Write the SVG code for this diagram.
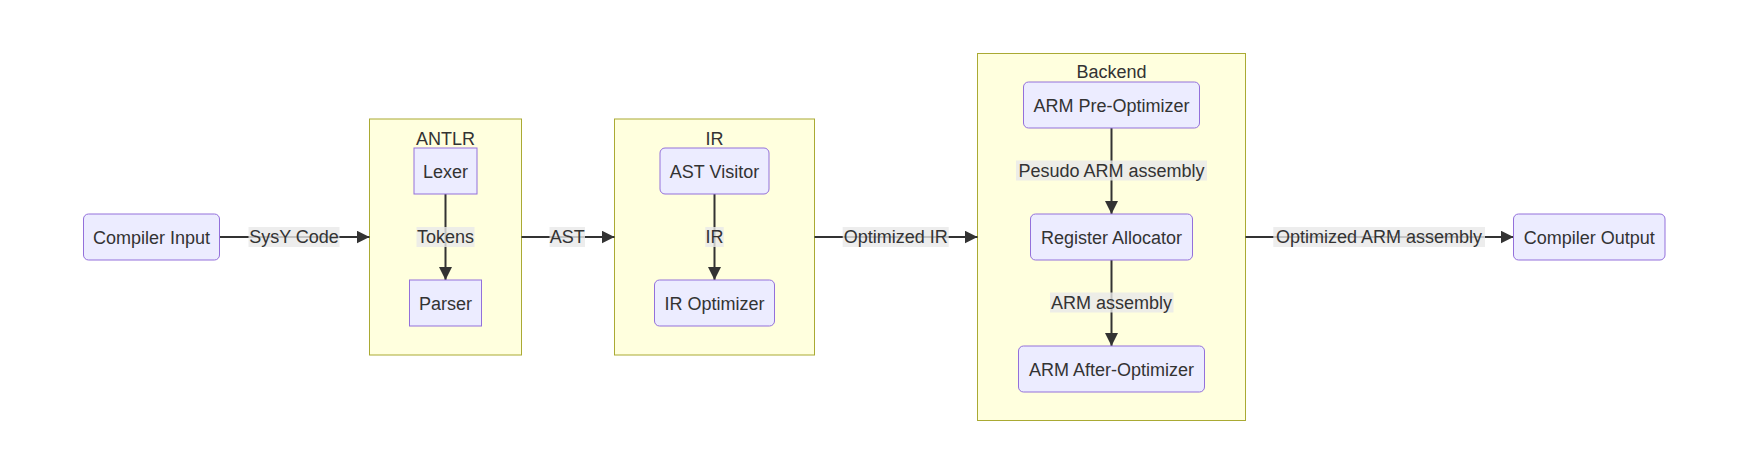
<svg xmlns="http://www.w3.org/2000/svg" width="1750" height="472" viewBox="0 0 1750 472">
<style>
.cluster{fill:#ffffde;stroke:#aaaa33;stroke-width:1}
.node{fill:#ececff;stroke:#9370db;stroke-width:1}
text{font-family:"Liberation Sans",Arial,sans-serif;font-size:18px;fill:#333333;text-anchor:middle}
.edge{stroke:#333333;stroke-width:2;fill:none}
.lbl{fill:#e8e8e8;fill-opacity:0.8}
</style>
<defs>
<marker id="arrow" viewBox="0 0 10 10" refX="10" refY="5" markerUnits="userSpaceOnUse" markerWidth="13" markerHeight="13" orient="auto">
<path d="M0,0 L10,5 L0,10 z" fill="#333333"/>
</marker>
</defs>
<rect width="1750" height="472" fill="#ffffff"/>
<g id="cluster-antlr">
<rect class="cluster" x="369.5" y="119" width="152" height="236"/>
<text x="445.5" y="145">ANTLR</text>
</g>
<g id="cluster-ir">
<rect class="cluster" x="614.5" y="119" width="200" height="236"/>
<text x="714.5" y="145">IR</text>
</g>
<g id="cluster-backend">
<rect class="cluster" x="977.5" y="53.5" width="268" height="367"/>
<text x="1111.5" y="78">Backend</text>
</g>
<g id="connectors">
<path class="edge" d="M219.5,237 L369.5,237" marker-end="url(#arrow)"/>
<path class="edge" d="M445.5,194 L445.5,280" marker-end="url(#arrow)"/>
<path class="edge" d="M521.5,237 L614.5,237" marker-end="url(#arrow)"/>
<path class="edge" d="M714.5,194 L714.5,280" marker-end="url(#arrow)"/>
<path class="edge" d="M814.5,237 L977.5,237" marker-end="url(#arrow)"/>
<path class="edge" d="M1111.5,128 L1111.5,214" marker-end="url(#arrow)"/>
<path class="edge" d="M1111.5,260 L1111.5,346" marker-end="url(#arrow)"/>
<path class="edge" d="M1245.5,237 L1513.5,237" marker-end="url(#arrow)"/>
<rect class="lbl" x="248.5" y="227" width="91" height="20"/>
<text x="294" y="243">SysY Code</text>
<rect class="lbl" x="416.5" y="227" width="58" height="20"/>
<text x="445.5" y="243">Tokens</text>
<rect class="lbl" x="549.5" y="227" width="35.5" height="20"/>
<text x="567.3" y="243">AST</text>
<rect class="lbl" x="705.3" y="227" width="18.4" height="20"/>
<text x="714.5" y="243">IR</text>
<rect class="lbl" x="842.7" y="227" width="106" height="20"/>
<text x="895.7" y="243">Optimized IR</text>
<rect class="lbl" x="1016" y="160.5" width="191" height="20"/>
<text x="1111.5" y="176.5">Pesudo ARM assembly</text>
<rect class="lbl" x="1050" y="292.5" width="123.5" height="20"/>
<text x="1111.5" y="308.5">ARM assembly</text>
<rect class="lbl" x="1273.3" y="227" width="211.7" height="20"/>
<text x="1379" y="243">Optimized ARM assembly</text>
</g>
<g id="node-input">
<rect class="node" x="83.5" y="214" width="136" height="46" rx="5"/>
<text x="151.5" y="243.5">Compiler Input</text>
</g>
<g id="node-lexer">
<rect class="node" x="414" y="148" width="63" height="46"/>
<text x="445.5" y="177.5">Lexer</text>
</g>
<g id="node-parser">
<rect class="node" x="409.5" y="280" width="72" height="46"/>
<text x="445.5" y="309.5">Parser</text>
</g>
<g id="node-astvisitor">
<rect class="node" x="660" y="148" width="109" height="46" rx="5"/>
<text x="714.5" y="177.5">AST Visitor</text>
</g>
<g id="node-iroptimizer">
<rect class="node" x="654.5" y="280" width="120" height="46" rx="5"/>
<text x="714.5" y="309.5">IR Optimizer</text>
</g>
<g id="node-preopt">
<rect class="node" x="1023.5" y="82" width="176" height="46" rx="5"/>
<text x="1111.5" y="111.5">ARM Pre-Optimizer</text>
</g>
<g id="node-regalloc">
<rect class="node" x="1030.5" y="214" width="162" height="46" rx="5"/>
<text x="1111.5" y="243.5">Register Allocator</text>
</g>
<g id="node-afteropt">
<rect class="node" x="1018.5" y="346" width="186" height="46" rx="5"/>
<text x="1111.5" y="375.5">ARM After-Optimizer</text>
</g>
<g id="node-output">
<rect class="node" x="1513.5" y="214" width="151.5" height="46" rx="5"/>
<text x="1589.3" y="243.5">Compiler Output</text>
</g>
</svg>
